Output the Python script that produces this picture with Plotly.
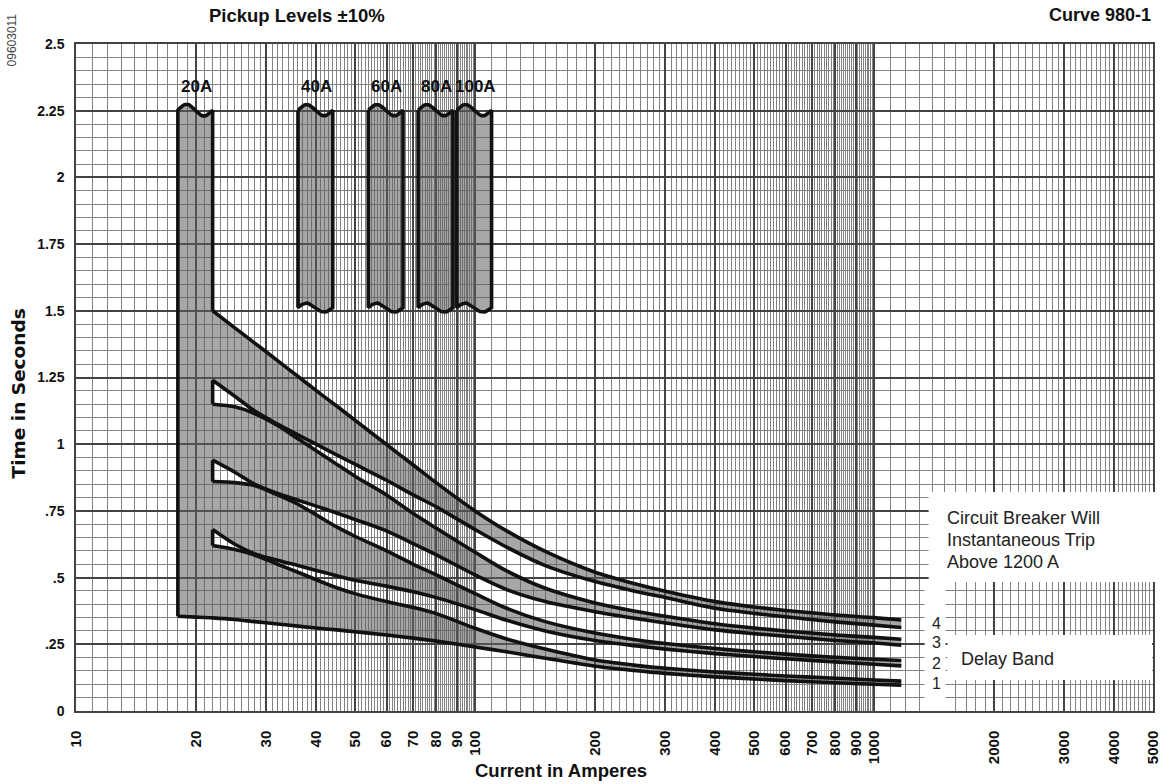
import math
import plotly.graph_objects as go

# ---------------- data ----------------
pickup_amps = [20, 40, 60, 80, 100]
pickup_labels = ["20A", "40A", "60A", "80A", "100A"]
pickup_tolerance = 0.10
pickup_top_s = 2.252
pickup_floor_s = 1.512

band_x = [22, 25, 28, 32, 36, 40, 45, 50, 60, 70, 80, 100, 120, 150, 200,
          250, 300, 400, 500, 600, 800, 1000, 1170]
band4_upper = [1.50, 1.436, 1.38, 1.313, 1.254, 1.201, 1.143, 1.09, 0.999, 0.922, 0.855, 0.75,
               0.675, 0.598, 0.52, 0.478, 0.449, 0.41, 0.39, 0.377, 0.36, 0.35, 0.341]
band4_lower = [1.24, 1.18, 1.125, 1.075, 1.035, 1.00, 0.96, 0.925, 0.865, 0.81, 0.765, 0.68,
               0.614, 0.545, 0.485, 0.45, 0.425, 0.385, 0.366, 0.353, 0.334, 0.322, 0.313]
band3_upper = [1.15, 1.14, 1.115, 1.07, 1.02, 0.975, 0.925, 0.88, 0.81, 0.74, 0.685, 0.595,
               0.525, 0.46, 0.405, 0.375, 0.355, 0.327, 0.311, 0.30, 0.285, 0.276, 0.269]
band3_lower = [0.94, 0.895, 0.85, 0.815, 0.79, 0.768, 0.742, 0.718, 0.675, 0.627, 0.585, 0.51,
               0.455, 0.41, 0.372, 0.348, 0.33, 0.304, 0.29, 0.28, 0.264, 0.255, 0.247]
band2_upper = [0.86, 0.856, 0.845, 0.81, 0.775, 0.735, 0.69, 0.655, 0.60, 0.55, 0.51, 0.44,
               0.385, 0.335, 0.292, 0.268, 0.253, 0.234, 0.222, 0.213, 0.201, 0.194, 0.189]
band2_lower = [0.68, 0.625, 0.59, 0.565, 0.545, 0.527, 0.507, 0.49, 0.468, 0.447, 0.425, 0.38,
               0.34, 0.30, 0.264, 0.245, 0.232, 0.215, 0.204, 0.196, 0.184, 0.175, 0.169]
band1_upper = [0.62, 0.605, 0.585, 0.55, 0.52, 0.492, 0.462, 0.44, 0.41, 0.388, 0.365, 0.31,
               0.27, 0.232, 0.191, 0.172, 0.16, 0.146, 0.138, 0.131, 0.123, 0.116, 0.112]
band1_lower_x = [18, 20, 22, 25, 28, 32, 36, 40, 45, 50, 60, 70, 80, 100, 120, 150, 200,
                 250, 300, 400, 500, 600, 800, 1000, 1170]
band1_lower = [0.355, 0.352, 0.349, 0.343, 0.335, 0.326, 0.318, 0.311, 0.304, 0.297, 0.285,
               0.273, 0.262, 0.24, 0.222, 0.198, 0.168, 0.152, 0.141, 0.128, 0.12, 0.114,
               0.106, 0.10, 0.097]
delay_band_numbers = ["4", "3", "2", "1"]

x_tick_vals = [10, 20, 30, 40, 50, 60, 70, 80, 90, 100, 200, 300, 400, 500, 600, 700,
               800, 900, 1000, 2000, 3000, 4000, 5000]
x_tick_text = [str(v) for v in x_tick_vals]
y_tick_vals = [0, 0.25, 0.5, 0.75, 1.0, 1.25, 1.5, 1.75, 2.0, 2.25, 2.5]
y_tick_text = ["0", ".25", ".5", ".75", "1", "1.25", "1.5", "1.75", "2", "2.25", "2.5"]

# ---------------- styling helpers ----------------
FONT = "Liberation Sans, Arial, Helvetica, sans-serif"
WIDE_FONT = "DejaVu Sans, Verdana, sans-serif"
FILL = "rgba(95,95,95,0.55)"
INK = "#111111"
X_MIN, X_MAX = 10, 5000
PLOT_L, PLOT_R, PLOT_T, PLOT_B = 76, 1161, 44, 711


def paper_x_from_px(px):
    return (px - PLOT_L) / (PLOT_R - PLOT_L)


def paper_y_from_px(py):
    return (PLOT_B - py) / (PLOT_B - PLOT_T)


# break-mark wave (decoration only) for the pickup columns
wave_t = [i / 24 for i in range(25)]
wave_shape = [math.sin(2 * math.pi * t) for t in wave_t]


def wave(xl, xr, base, amp):
    xs = [xl * (xr / xl) ** t for t in wave_t]
    ys = [base + amp * w for w in wave_shape]
    return xs, ys


fig = go.Figure()

# ---------------- filled regions ----------------
fx, fy = [], []
lo20, hi20 = pickup_amps[0] * (1 - pickup_tolerance), pickup_amps[0] * (1 + pickup_tolerance)
wx, wy = wave(lo20, hi20, pickup_top_s, 0.022)
col_idx = [i for i, v in enumerate(band1_lower_x) if v <= hi20 + 1e-9]
fx += [band1_lower_x[0]] + wx + [hi20] + [band1_lower_x[i] for i in reversed(col_idx)] + [None]
fy += [band1_lower[0]] + wy + [band1_lower[col_idx[-1]]] + [band1_lower[i] for i in reversed(col_idx)] + [None]
for p in pickup_amps[1:]:
    lo, hi = p * (1 - pickup_tolerance), p * (1 + pickup_tolerance)
    tx, ty = wave(lo, hi, pickup_top_s, 0.021)
    bx, by = wave(lo, hi, pickup_floor_s, 0.017)
    fx += tx + bx[::-1] + [tx[0], None]
    fy += ty + by[::-1] + [ty[0], None]
b1_lower_on_band_x = band1_lower[band1_lower_x.index(band_x[0]):]
for up, lo in [(band4_upper, band4_lower), (band3_upper, band3_lower),
               (band2_upper, band2_lower), (band1_upper, b1_lower_on_band_x)]:
    fx += band_x + band_x[::-1] + [band_x[0], None]
    fy += up + lo[::-1] + [up[0], None]

fig.add_trace(go.Scatter(x=fx, y=fy, mode="lines", fill="toself", fillcolor=FILL,
                         line=dict(width=0), hoverinfo="skip", showlegend=False))

# ---------------- outlines ----------------
cx, cy = [], []
for arr in [band4_upper, band4_lower, band3_upper, band3_lower,
            band2_upper, band2_lower, band1_upper]:
    cx += band_x + [None]
    cy += arr + [None]
cx += band1_lower_x
cy += band1_lower
fig.add_trace(go.Scatter(x=cx, y=cy, mode="lines",
                         line=dict(color=INK, width=3.6, shape="spline", smoothing=0.8),
                         hoverinfo="skip", showlegend=False))

sx, sy = [], []
sx += [hi20, hi20] + wx[::-1] + [lo20, lo20, None]
sy += [band4_upper[0], wy[-1]] + wy[::-1] + [wy[0], band1_lower[0], None]
for lo_arr, up_arr in [(band4_lower, band3_upper), (band3_lower, band2_upper), (band2_lower, band1_upper)]:
    sx += [band_x[0], band_x[0], None]
    sy += [lo_arr[0], up_arr[0], None]
for p in pickup_amps[1:]:
    lo, hi = p * (1 - pickup_tolerance), p * (1 + pickup_tolerance)
    tx, ty = wave(lo, hi, pickup_top_s, 0.021)
    bx, by = wave(lo, hi, pickup_floor_s, 0.017)
    sx += tx + bx[::-1] + [tx[0], None]
    sy += ty + by[::-1] + [ty[0], None]
fig.add_trace(go.Scatter(x=sx, y=sy, mode="lines", line=dict(color=INK, width=3.6),
                         hoverinfo="skip", showlegend=False))

# ---------------- grid ----------------
minor_x = []
for dec in (10, 100, 1000):
    for k in range(10, 100):
        v = dec * k / 10
        if v <= X_MAX and k % 10 != 0 and v not in x_tick_vals:
            minor_x.append(v)
minor_y = [round(i * 0.05, 2) for i in range(51) if i % 5 != 0]

# ---------------- white boxes ----------------
shapes = [
    dict(type="rect", xref="paper", yref="y", x0=paper_x_from_px(935), x1=1.02, y0=0.4835, y1=0.821,
         fillcolor="white", line=dict(width=0), layer="above"),
    dict(type="rect", xref="paper", yref="y", x0=paper_x_from_px(954), x1=paper_x_from_px(1160),
         y0=0.116, y1=0.285, fillcolor="white", line=dict(width=0), layer="above"),
    dict(type="rect", xref="paper", yref="y", x0=paper_x_from_px(931), x1=paper_x_from_px(952),
         y0=0.0, y1=0.49, fillcolor="white", line=dict(width=0), layer="above"),
]

# ---------------- annotations ----------------
ann = []
for p, lab in zip(pickup_amps, pickup_labels):
    ann.append(dict(x=math.log10(p), y=2.34, xref="x", yref="y", text="<b>" + lab + "</b>", showarrow=False,
                    font=dict(family=FONT, size=17, color=INK), xanchor="center", yanchor="middle"))
band_end_centres = [(band4_upper[-1] + band4_lower[-1]) / 2, (band3_upper[-1] + band3_lower[-1]) / 2,
                    (band2_upper[-1] + band2_lower[-1]) / 2, (band1_upper[-1] + band1_lower[-1]) / 2]
for lab, yc in zip(delay_band_numbers, band_end_centres):
    ann.append(dict(x=paper_x_from_px(943), y=yc, xref="paper", yref="y", text=lab, showarrow=False,
                    font=dict(family=FONT, size=16, color="#222"), xanchor="center", yanchor="middle"))
for i, line in enumerate(["Circuit Breaker Will", "Instantaneous Trip", "Above 1200 A"]):
    ann.append(dict(x=paper_x_from_px(951), y=paper_y_from_px(518 + 22 * i), xref="paper", yref="paper",
                    text=line, showarrow=False, font=dict(family=FONT, size=18, color="#222"),
                    xanchor="left", yanchor="middle"))
ann.append(dict(x=paper_x_from_px(966), y=paper_y_from_px(659), xref="paper", yref="paper",
                text="Delay Band", showarrow=False, font=dict(family=FONT, size=18, color="#222"),
                xanchor="left", yanchor="middle"))
ann.append(dict(x=paper_x_from_px(299), y=paper_y_from_px(15), xref="paper", yref="paper",
                text="<b>Pickup Levels ±10%</b>", showarrow=False,
                font=dict(family=FONT, size=18.5, color=INK), xanchor="center", yanchor="middle"))
ann.append(dict(x=paper_x_from_px(1161), y=paper_y_from_px(15), xref="paper", yref="paper",
                text="<b>Curve 980-1</b>", showarrow=False,
                font=dict(family=FONT, size=18, color=INK), xanchor="right", yanchor="middle"))
ann.append(dict(x=paper_x_from_px(12), y=paper_y_from_px(40), xref="paper", yref="paper",
                text="09603011", showarrow=False, textangle=-90,
                font=dict(family=FONT, size=12, color="#444"), xanchor="center", yanchor="middle"))
ann.append(dict(x=paper_x_from_px(18), y=paper_y_from_px(393), xref="paper", yref="paper",
                text="<b>Time in Seconds</b>", showarrow=False, textangle=-90,
                font=dict(family=WIDE_FONT, size=18.5, color=INK), xanchor="center", yanchor="middle"))
ann.append(dict(x=paper_x_from_px(565), y=paper_y_from_px(771), xref="paper", yref="paper",
                text="<b>Current in Amperes</b>", showarrow=False,
                font=dict(family=FONT, size=18.5, color=INK), xanchor="center", yanchor="middle"))

fig.update_layout(
    width=1173, height=784,
    margin=dict(l=PLOT_L, r=1173 - PLOT_R, t=PLOT_T, b=784 - PLOT_B, pad=0),
    plot_bgcolor="white", paper_bgcolor="white",
    showlegend=False, hovermode=False,
    shapes=shapes, annotations=ann,
    xaxis=dict(type="log", range=[math.log10(X_MIN), math.log10(X_MAX)],
               tickmode="array", tickvals=x_tick_vals, ticktext=x_tick_text, tickangle=-90,
               tickfont=dict(family=FONT, size=15, color=INK, weight="bold"),
               ticklabelstandoff=12, ticks="",
               showgrid=True, gridcolor="#444444", gridwidth=1.5,
               minor=dict(tickmode="array", tickvals=minor_x, showgrid=True, gridcolor="#828282",
                          gridwidth=1, ticks=""),
               showline=True, mirror=True, linecolor="#444", linewidth=1.5, zeroline=False),
    yaxis=dict(range=[0, 2.5], tickmode="array", tickvals=y_tick_vals, ticktext=y_tick_text,
               tickfont=dict(family=FONT, size=14, color=INK, weight="bold"),
               ticklabelstandoff=7, ticks="",
               showgrid=True, gridcolor="#444444", gridwidth=1.5,
               minor=dict(tickmode="array", tickvals=minor_y, showgrid=True, gridcolor="#828282",
                          gridwidth=1, ticks=""),
               showline=True, mirror=True, linecolor="#444", linewidth=1.5, zeroline=False),
)

fig.write_html("out.html", config={"displayModeBar": False},
               post_script="document.body.style.margin='0';"
                           "document.body.style.overflow='hidden';"
                           "document.documentElement.style.overflow='hidden';")
